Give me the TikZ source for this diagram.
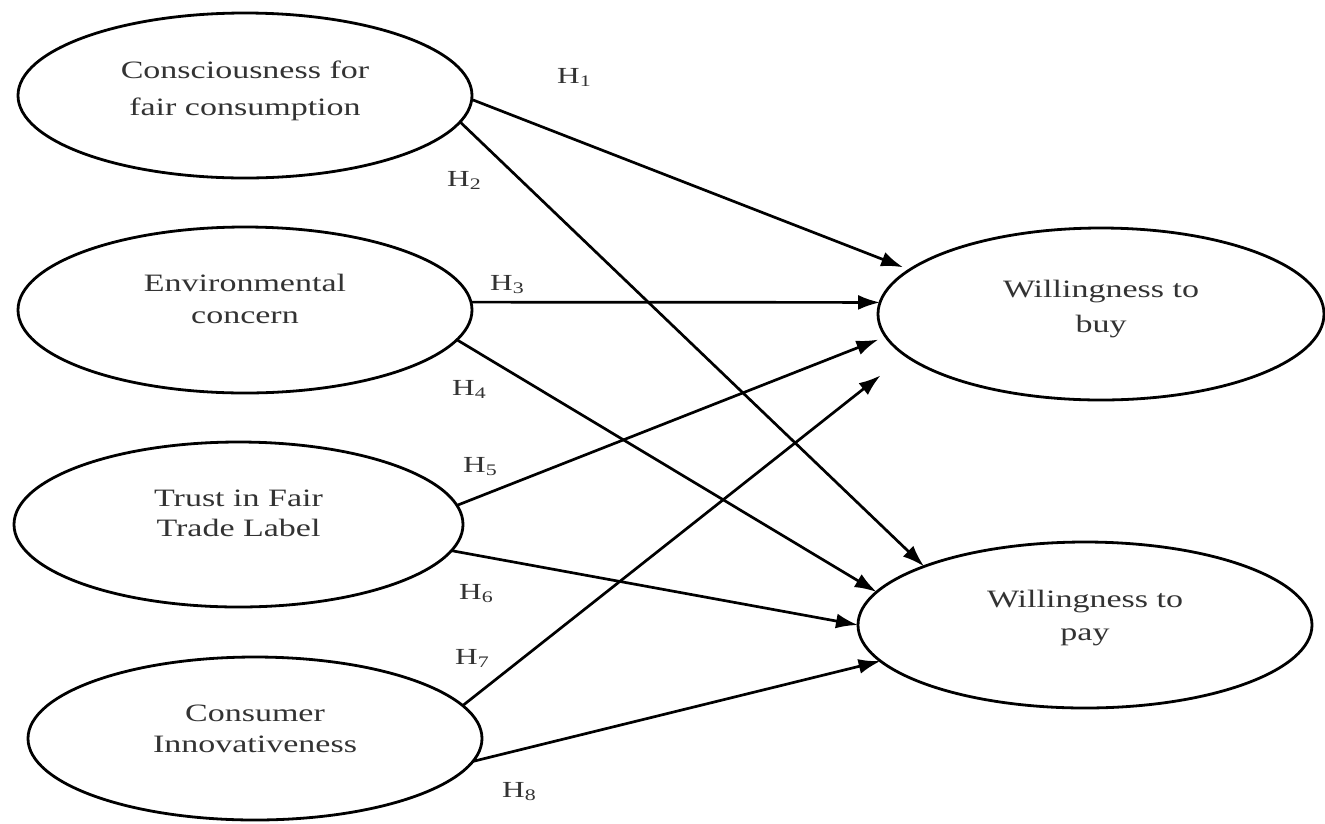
\documentclass[tikz,border=0pt]{standalone}
\usepackage{fontspec}
\setmainfont{Liberation Serif}[FakeStretch=1.36]
\usetikzlibrary{shapes.geometric,arrows.meta}
\begin{document}
\begin{tikzpicture}[x=1pt,y=-1pt,
  ell/.style={draw, ellipse, line width=2.8pt, inner sep=0pt, outer sep=0pt,
              minimum width=454pt, minimum height=165pt},
  txt/.style={align=center, text=black!80, inner sep=0pt},
  hl/.style={anchor=base west, inner sep=0pt, font=\fontsize{23}{23}\selectfont, text=black!80},
  arr/.style={line width=2.7pt, -{Latex[length=22pt,width=15pt]}}]
\fill[white] (0,0) rectangle (1325,823);
\useasboundingbox (0,0) rectangle (1325,823);

% source constructs
\node[ell, label={[txt, font=\fontsize{25}{37}\selectfont, yshift=4.8pt]center:{Consciousness for\\fair consumption}}] (e1) at (245,95.5) {};
\node[ell, minimum height=166pt, label={[txt, font=\fontsize{25}{32.5}\selectfont, yshift=11pt]center:{Environmental\\concern}}] (e2) at (245,310) {};
\node[ell, minimum width=449pt, label={[txt, font=\fontsize{25}{30}\selectfont, yshift=11pt]center:{Trust in Fair\\Trade Label}}] (e3) at (238.5,524.5) {};
\node[ell, minimum height=163pt, label={[txt, font=\fontsize{25}{31}\selectfont, yshift=9.5pt]center:{Consumer\\Innovativeness}}] (e4) at (255,738.5) {};

% outcome constructs
\node[ell, minimum width=446pt, minimum height=172pt, label={[txt, font=\fontsize{25}{35}\selectfont, yshift=5.3pt]center:{Willingness to\\buy}}] (wtb) at (1101,314) {};
\node[ell, minimum height=166pt, label={[txt, font=\fontsize{25}{33}\selectfont, yshift=7.3pt]center:{Willingness to\\pay}}] (wtp) at (1085,625) {};

% hypotheses paths
\draw[arr, shorten >=7pt] (e1.-1) -- (wtb.167);
\draw[arr] (e1.-7) -- (wtp.160);
\draw[arr] (e2.2) -- (wtb.177);
\draw[arr] (e2.-8) -- (wtp.171);
\draw[arr, shorten >=8pt] (e3.5) -- (wtb.186);
\draw[arr] (e3.-7) -- (wtp.180);
\draw[arr, shorten >=32pt] (e4.9) -- (wtb.192);
\draw[arr] (e4.-6) -- (wtp.190);

% hypothesis labels
\node[hl] (h1) at (557,83) {H\textsubscript{1}};
\node[hl] (h2) at (447,186) {H\textsubscript{2}};
\node[hl] (h3) at (490,290) {H\textsubscript{3}};
\node[hl] (h4) at (452,395) {H\textsubscript{4}};
\node[hl] (h5) at (463,472) {H\textsubscript{5}};
\node[hl] (h6) at (459,599) {H\textsubscript{6}};
\node[hl] (h7) at (455,664) {H\textsubscript{7}};
\node[hl] (h8) at (502,797) {H\textsubscript{8}};
\end{tikzpicture}
\end{document}
